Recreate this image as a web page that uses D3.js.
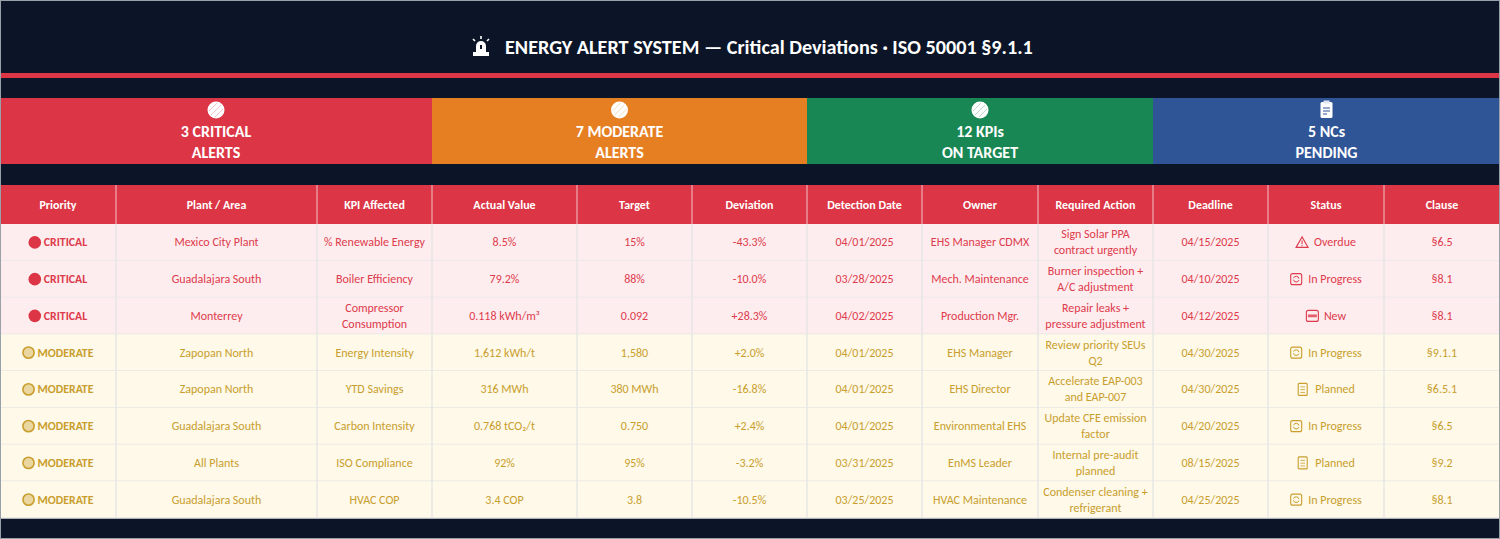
<!DOCTYPE html>
<html>
<head>
<meta charset="utf-8">
<script src="https://cdn.jsdelivr.net/npm/d3@7"></script>
<style>
  html, body { margin: 0; padding: 0; background: #0b1527; }
  svg { display: block; font-family: Calibri, Carlito, Lato, sans-serif; }
</style>
</head>
<body>
<svg id="chart"></svg>
<script>
var w = 1500;
var h = 539;

// data
var titleText = "ENERGY ALERT SYSTEM \u2014 Critical Deviations \u00b7 ISO 50001 \u00a79.1.1";
var cardCounts = ["3 CRITICAL", "7 MODERATE", "12 KPIs", "5 NCs"];
var cardLabels = ["ALERTS", "ALERTS", "ON TARGET", "PENDING"];

var headers = ["Priority", "Plant / Area", "KPI Affected", "Actual Value", "Target", "Deviation",
               "Detection Date", "Owner", "Required Action", "Deadline", "Status", "Clause"];
var priorities = ["CRITICAL", "CRITICAL", "CRITICAL", "MODERATE", "MODERATE", "MODERATE", "MODERATE", "MODERATE"];
var plants = ["Mexico City Plant", "Guadalajara South", "Monterrey", "Zapopan North", "Zapopan North",
              "Guadalajara South", "All Plants", "Guadalajara South"];
var kpis = ["% Renewable Energy", "Boiler Efficiency", "Compressor\nConsumption", "Energy Intensity",
            "YTD Savings", "Carbon Intensity", "ISO Compliance", "HVAC COP"];
var actuals = ["8.5%", "79.2%", "0.118 kWh/m\u00b3", "1,612 kWh/t", "316 MWh", "0.768 tCO\u2082/t", "92%", "3.4 COP"];
var targets = ["15%", "88%", "0.092", "1,580", "380 MWh", "0.750", "95%", "3.8"];
var deviations = ["-43.3%", "-10.0%", "+28.3%", "+2.0%", "-16.8%", "+2.4%", "-3.2%", "-10.5%"];
var detectionDates = ["04/01/2025", "03/28/2025", "04/02/2025", "04/01/2025", "04/01/2025",
                      "04/01/2025", "03/31/2025", "03/25/2025"];
var owners = ["EHS Manager CDMX", "Mech. Maintenance", "Production Mgr.", "EHS Manager", "EHS Director",
              "Environmental EHS", "EnMS Leader", "HVAC Maintenance"];
var actions = ["Sign Solar PPA\ncontract urgently", "Burner inspection +\nA/C adjustment",
               "Repair leaks +\npressure adjustment", "Review priority SEUs\nQ2", "Accelerate EAP-003\nand EAP-007",
               "Update CFE emission\nfactor", "Internal pre-audit\nplanned", "Condenser cleaning +\nrefrigerant"];
var deadlines = ["04/15/2025", "04/10/2025", "04/12/2025", "04/30/2025", "04/30/2025",
                 "04/20/2025", "08/15/2025", "04/25/2025"];
var statuses = ["Overdue", "In Progress", "New", "In Progress", "Planned", "In Progress", "Planned", "In Progress"];
var clauses = ["\u00a76.5", "\u00a78.1", "\u00a78.1", "\u00a79.1.1", "\u00a76.5.1", "\u00a76.5", "\u00a79.2", "\u00a78.1"];

// layout
var colWidths = [116, 201, 115, 145, 115, 115, 115, 116, 115, 115, 116, 116];
var colors = {
  dark: "#0b1527", red: "#dc3545", orange: "#e67e22", green: "#198754", blue: "#2f5597",
  critBg: "#fdedef", modBg: "#fef9e8", critText: "#de3b4c", modText: "#c99e2e", grid: "#e6e6e6"
};
var cardColors = [colors.red, colors.orange, colors.green, colors.blue];
var cellFont = "12px";

var svg = d3.select("#chart").attr("width", w).attr("height", h);

svg.append("rect").attr("width", w).attr("height", h).attr("fill", colors.dark);

// ---------- title ----------
svg.append("text")
  .attr("x", 505).attr("y", 54)
  .attr("fill", "#fff")
  .style("font-size", "20.2px").style("font-weight", "bold")
  .text(titleText);

// siren icon
var siren = svg.append("g").attr("transform", "translate(481,47)").attr("fill", "#fff").attr("stroke", "#fff");
siren.append("path").attr("d", "M-5,5 L-5,-1 A5,5 0 0 1 5,-1 L5,5 Z").attr("stroke", "none");
siren.append("rect").attr("x", -8).attr("y", 5).attr("width", 16).attr("height", 4).attr("stroke", "none");
siren.append("path").attr("d", "M0,-8 L0,-11 M-6,-6 L-8,-8 M6,-6 L8,-8").attr("stroke-width", 1.6).attr("fill", "none");
siren.append("rect").attr("x", -1).attr("y", -2).attr("width", 2).attr("height", 4).attr("fill", colors.dark).attr("stroke", "none");

svg.append("rect").attr("x", 0).attr("y", 73).attr("width", w).attr("height", 5).attr("fill", colors.red);

// ---------- cards ----------
var colStarts = [0].concat(Array.from(d3.cumsum(colWidths)));
var colX = d3.scaleOrdinal().domain(d3.range(headers.length + 1)).range(colStarts);
var cardX = d3.scaleOrdinal().domain(d3.range(cardCounts.length)).range(cardCounts.map(function(d, i) { return colX(i * 3); }));
var cardW = function(i) { return colX(i * 3 + 3) - colX(i * 3); };

var cards = svg.selectAll("g.card")
  .data(cardCounts)
  .enter()
  .append("g")
  .attr("class", "card")
  .attr("transform", function(d, i) { return "translate(" + cardX(i) + ",98)"; });

cards.append("rect")
  .attr("width", function(d, i) { return cardW(i); })
  .attr("height", 66)
  .attr("fill", function(d, i) { return cardColors[i]; });

cards.each(function(d, i) {
  var g = d3.select(this);
  var cx = cardW(i) / 2;
  if (i < 3) {
    g.append("circle").attr("cx", cx).attr("cy", 12).attr("r", 8.5).attr("fill", "#fff");
    g.append("path")
      .attr("d", "M" + (cx - 5) + ",17 L" + (cx + 5) + ",7 M" + (cx - 7) + ",13 L" + (cx + 1) + ",5 M" + (cx - 1) + ",19 L" + (cx + 7) + ",11")
      .attr("stroke", cardColors[i]).attr("stroke-opacity", 0.3).attr("stroke-width", 1);
  } else {
    g.append("rect").attr("x", cx - 6).attr("y", 4).attr("width", 12).attr("height", 16).attr("rx", 1.5).attr("fill", "#fff");
    g.append("rect").attr("x", cx - 3).attr("y", 2.5).attr("width", 6).attr("height", 3).attr("fill", "#dfe6f3");
    g.append("path").attr("d", "M" + (cx - 3.5) + ",10 h7 M" + (cx - 3.5) + ",13 h7 M" + (cx - 3.5) + ",16 h4")
      .attr("stroke", colors.blue).attr("stroke-width", 1);
  }
});

cards.append("text")
  .attr("x", function(d, i) { return cardW(i) / 2; })
  .attr("y", 39)
  .attr("text-anchor", "middle").attr("fill", "#fff")
  .style("font-size", "16px").style("font-weight", "bold")
  .text(function(d) { return d; });

cards.append("text")
  .attr("x", function(d, i) { return cardW(i) / 2; })
  .attr("y", 60)
  .attr("text-anchor", "middle").attr("fill", "#fff")
  .style("font-size", "16px").style("font-weight", "bold")
  .text(function(d, i) { return cardLabels[i]; });

// ---------- table ----------
var headerTop = 185, headerH = 39;
var y = d3.scaleBand().domain(d3.range(priorities.length)).range([headerTop + headerH, 518]);

var cellW = function(c) { return colWidths[c]; };

// header
svg.append("rect").attr("x", 0).attr("y", headerTop).attr("width", w).attr("height", headerH).attr("fill", colors.red);
svg.selectAll("line.hsep")
  .data(d3.range(1, headers.length))
  .enter()
  .append("line")
  .attr("class", "hsep")
  .attr("x1", function(c) { return colX(c); }).attr("x2", function(c) { return colX(c); })
  .attr("y1", headerTop).attr("y2", headerTop + headerH)
  .attr("stroke", "#f3c4c8").attr("stroke-width", 1);

svg.selectAll("text.header")
  .data(headers)
  .enter()
  .append("text")
  .attr("class", "header")
  .attr("x", function(d, c) { return colX(c) + cellW(c) / 2; })
  .attr("y", headerTop + headerH / 2 + 4)
  .attr("text-anchor", "middle").attr("fill", "#fff")
  .style("font-size", "12px").style("font-weight", "bold")
  .text(function(d) { return d; });

// rows
var rows = priorities.map(function(p, i) {
  return [p, plants[i], kpis[i], actuals[i], targets[i], deviations[i], detectionDates[i],
          owners[i], actions[i], deadlines[i], statuses[i], clauses[i]];
});

var rowG = svg.selectAll("g.row")
  .data(rows)
  .enter()
  .append("g")
  .attr("class", "row")
  .attr("transform", function(d, i) { return "translate(0," + y(i) + ")"; });

rowG.append("rect")
  .attr("width", w).attr("height", y.bandwidth())
  .attr("fill", function(d) { return d[0] === "CRITICAL" ? colors.critBg : colors.modBg; });

rowG.append("line")
  .attr("x1", 0).attr("x2", w).attr("y1", y.bandwidth()).attr("y2", y.bandwidth())
  .attr("stroke", colors.grid).attr("stroke-width", 1.5);

svg.selectAll("line.vsep")
  .data(d3.range(1, headers.length))
  .enter()
  .append("line")
  .attr("class", "vsep")
  .attr("x1", function(c) { return colX(c); }).attr("x2", function(c) { return colX(c); })
  .attr("y1", y(0)).attr("y2", y.range()[1])
  .attr("stroke", colors.grid).attr("stroke-width", 1.5);

function statusIcon(g, s, col) {
  if (s === "Overdue") {
    g.append("path").attr("d", "M0,5 L6,-5.5 L12,5 Z").attr("fill", "none").attr("stroke", col).attr("stroke-width", 1.1);
    g.append("path").attr("d", "M6,-2 V1.8 M6,2.8 V3.8").attr("stroke", col).attr("stroke-width", 1.1);
  } else if (s === "In Progress") {
    g.append("rect").attr("x", 0.5).attr("y", -5.5).attr("width", 11).attr("height", 11).attr("rx", 2)
      .attr("fill", "none").attr("stroke", col).attr("stroke-width", 1.1);
    g.append("path").attr("d", "M3.3,-1 A2.8,2.8 0 0 1 8.7,-0.5 M8.7,1 A2.8,2.8 0 0 1 3.3,0.6")
      .attr("fill", "none").attr("stroke", col).attr("stroke-width", 1);
  } else if (s === "New") {
    g.append("rect").attr("x", 0.5).attr("y", -5.5).attr("width", 12).attr("height", 11).attr("rx", 2)
      .attr("fill", "none").attr("stroke", col).attr("stroke-width", 1.1);
    g.append("rect").attr("x", 2).attr("y", -1.4).attr("width", 9).attr("height", 2.8).attr("fill", col).attr("opacity", 0.8);
  } else {
    g.append("rect").attr("x", 1).attr("y", -6).attr("width", 9).attr("height", 12).attr("rx", 1)
      .attr("fill", "none").attr("stroke", col).attr("stroke-width", 1.1);
    g.append("path").attr("d", "M3.2,-2.5 h4.6 M3.2,0.3 h4.6 M3.2,3.1 h4.6").attr("stroke", col).attr("stroke-width", 0.8);
  }
}

rowG.each(function(row, i) {
  var g = d3.select(this);
  var mid = y.bandwidth() / 2;
  var crit = row[0] === "CRITICAL";
  var col = crit ? colors.critText : colors.modText;

  row.forEach(function(val, c) {
    var cx = colX(c) + cellW(c) / 2;
    if (c === 0 || c === 10) {
      var grp = g.append("g");
      var iconW = c === 0 ? 15 : 18;
      var t = grp.append("text")
        .attr("x", iconW).attr("y", mid + 4)
        .attr("fill", col)
        .style("font-size", c === 0 ? "11.8px" : cellFont).style("font-weight", c === 0 ? "bold" : "normal")
        .text(val);
      var tw = t.node().getComputedTextLength();
      if (c === 0) {
        if (crit) {
          grp.append("circle").attr("cx", 6).attr("cy", mid).attr("r", 6.3).attr("fill", colors.red);
        } else {
          grp.append("circle").attr("cx", 6).attr("cy", mid).attr("r", 5.6)
            .attr("fill", "#ead6a0").attr("stroke", col).attr("stroke-width", 1.6);
        }
      } else {
        statusIcon(grp.append("g").attr("transform", "translate(0," + mid + ")"), val, col);
      }
      grp.attr("transform", "translate(" + (cx - (iconW + tw) / 2) + ",0)");
      return;
    }
    var lines = val.split("\n");
    var txt = g.append("text")
      .attr("x", cx)
      .attr("text-anchor", "middle").attr("fill", col)
      .style("font-size", cellFont);
    lines.forEach(function(line, k) {
      txt.append("tspan")
        .attr("x", cx)
        .attr("y", mid + 4 + (k - (lines.length - 1) / 2) * 16)
        .text(line);
    });
  });
});

svg.append("rect").attr("x", 0.5).attr("y", 0.5).attr("width", w - 1).attr("height", h - 1)
  .attr("fill", "none").attr("stroke", "#9aa0a8").attr("stroke-width", 1);
</script>
</body>
</html>
